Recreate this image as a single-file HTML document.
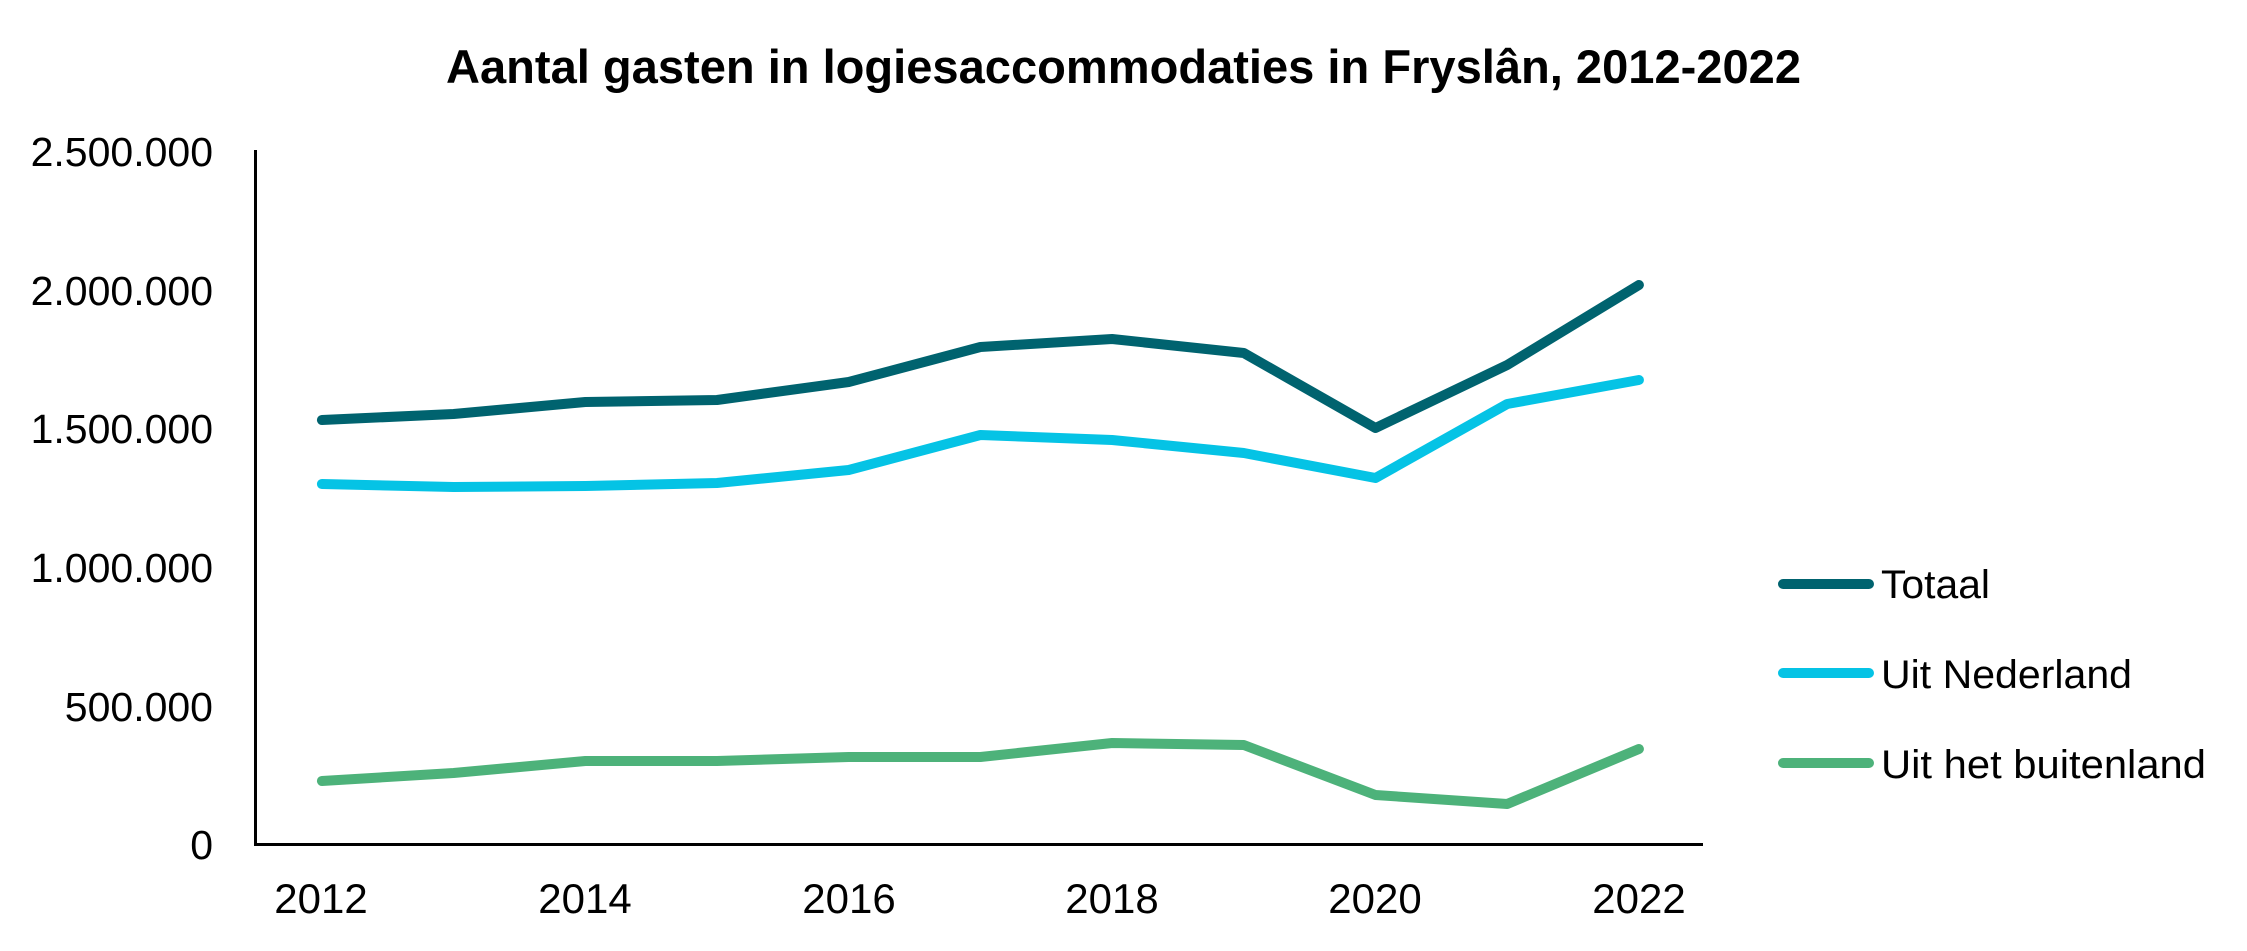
<!DOCTYPE html>
<html>
<head>
<meta charset="utf-8">
<style>
  html, body { margin:0; padding:0; background:#ffffff; }
  body { width:2247px; height:951px; overflow:hidden; }
  svg { display:block; }
  text { font-family: "Liberation Sans", "DejaVu Sans", sans-serif; fill:#000; }
</style>
</head>
<body>
<svg width="2247" height="951" viewBox="0 0 2247 951" xmlns="http://www.w3.org/2000/svg">
  <rect x="0" y="0" width="2247" height="951" fill="#ffffff"/>

  <!-- Title -->
  <text x="446" y="83" font-size="47" font-weight="bold" textLength="1355" lengthAdjust="spacingAndGlyphs">Aantal gasten in logiesaccommodaties in Fryslân, 2012-2022</text>

  <!-- Y tick labels -->
  <g font-size="41" text-anchor="end">
    <text x="213" y="166">2.500.000</text>
    <text x="213" y="305">2.000.000</text>
    <text x="213" y="443">1.500.000</text>
    <text x="213" y="582">1.000.000</text>
    <text x="213" y="721">500.000</text>
    <text x="213" y="859">0</text>
  </g>

  <!-- Axes -->
  <line x1="255.5" y1="150" x2="255.5" y2="846" stroke="#000" stroke-width="3"/>
  <line x1="254" y1="844.5" x2="1703" y2="844.5" stroke="#000" stroke-width="3"/>

  <!-- X tick labels -->
  <g font-size="42" text-anchor="middle">
    <text x="321" y="913">2012</text>
    <text x="585" y="913">2014</text>
    <text x="849" y="913">2016</text>
    <text x="1112" y="913">2018</text>
    <text x="1375" y="913">2020</text>
    <text x="1639" y="913">2022</text>
  </g>

  <!-- Series -->
  <g fill="none" stroke-width="10" stroke-linecap="round" stroke-linejoin="round">
    <polyline stroke="#00636F" points="321.9,420 453.6,414 585.3,402 717,400 848.7,382 980.4,347 1112.1,339 1243.8,353 1375.5,428 1507.2,365 1638.9,285"/>
    <polyline stroke="#05C3E5" points="321.9,484 453.6,487 585.3,486 717,483 848.7,470 980.4,435 1112.1,440 1243.8,453 1375.5,478 1507.2,404 1638.9,380"/>
    <polyline stroke="#4DB27A" points="321.9,781 453.6,773 585.3,761 717,761 848.7,757 980.4,757 1112.1,743 1243.8,745 1375.5,795 1507.2,804 1638.9,749"/>
  </g>

  <!-- Legend -->
  <g stroke-width="10" stroke-linecap="round">
    <line x1="1783" y1="584" x2="1869" y2="584" stroke="#00636F"/>
    <line x1="1783" y1="673" x2="1869" y2="673" stroke="#05C3E5"/>
    <line x1="1783" y1="763" x2="1869" y2="763" stroke="#4DB27A"/>
  </g>
  <g font-size="40">
    <text x="1881" y="598" textLength="109" lengthAdjust="spacingAndGlyphs">Totaal</text>
    <text x="1881" y="688" textLength="251" lengthAdjust="spacingAndGlyphs">Uit Nederland</text>
    <text x="1881" y="778" textLength="325" lengthAdjust="spacingAndGlyphs">Uit het buitenland</text>
  </g>
</svg>
</body>
</html>
